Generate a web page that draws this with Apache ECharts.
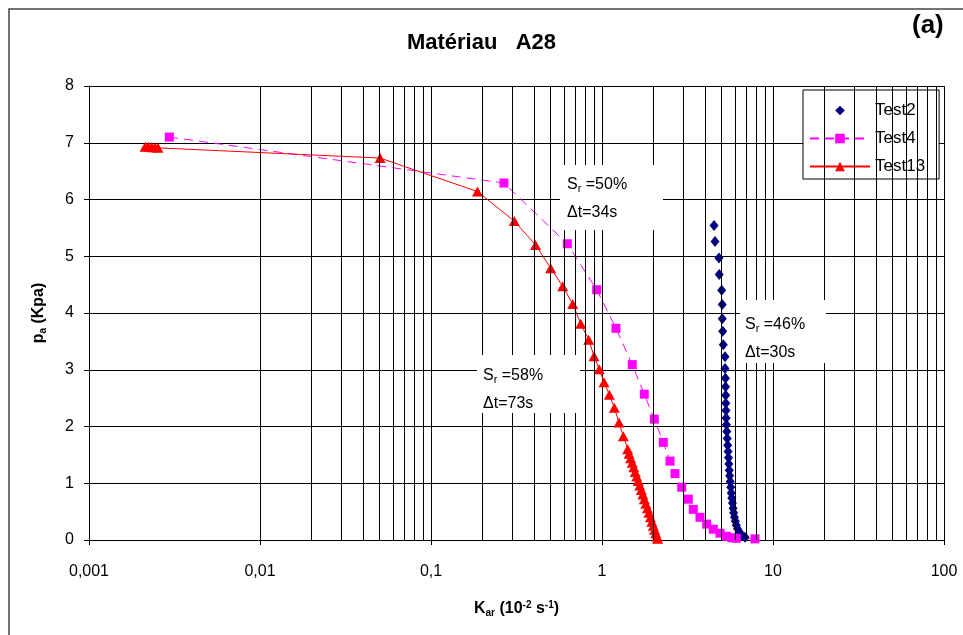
<!DOCTYPE html>
<html>
<head>
<meta charset="utf-8">
<script src="https://cdn.jsdelivr.net/npm/echarts@6/dist/echarts.min.js"></script>
<style>
  html, body { margin: 0; padding: 0; background: #fff; }
  #chart { width: 963px; height: 635px; }
</style>
</head>
<body>
<div id="chart"></div>
<script>
// Test2 : Sr = 46 %, Δt = 30 s
const test2K = [4.52, 4.58, 4.83, 4.85, 5.01, 5.05, 5.05, 5.08, 5.12, 5.24, 5.24, 5.27, 5.28, 5.29, 5.30,
                5.31, 5.32, 5.34, 5.37, 5.40, 5.43, 5.46, 5.49, 5.52, 5.55, 5.58, 5.62, 5.66, 5.70, 5.74,
                5.79, 5.84, 5.89, 5.95, 6.02, 6.10, 6.20, 6.35, 6.55, 6.86];
const test2P = [5.54, 5.26, 4.97, 4.68, 4.40, 4.15, 3.90, 3.68, 3.44, 3.23, 3.02, 2.85, 2.70, 2.55, 2.41,
                2.28, 2.15, 2.03, 1.91, 1.79, 1.67, 1.56, 1.45, 1.34, 1.23, 1.13, 1.03, 0.93, 0.83, 0.74,
                0.65, 0.56, 0.48, 0.40, 0.33, 0.26, 0.20, 0.14, 0.09, 0.05];

// Test4 : Sr = 50 %, Δt = 34 s
const test4K = [0.00295, 0.267, 0.627, 0.931, 1.207, 1.503, 1.767, 2.022, 2.283, 2.499, 2.673, 2.925,
                3.197, 3.420, 3.742, 4.096, 4.477, 4.90, 5.36, 5.75, 6.10, 7.85];
const test4P = [7.10, 6.29, 5.22, 4.41, 3.73, 3.09, 2.57, 2.13, 1.72, 1.39, 1.17, 0.93,
                0.72, 0.54, 0.40, 0.28, 0.19, 0.12, 0.065, 0.04, 0.03, 0.02];

// Test13 : Sr = 58 %, Δt = 73 s
const test13K = [0.00213, 0.00223, 0.00233, 0.00243, 0.00253, 0.0504, 0.187, 0.307, 0.409, 0.501,
                 0.589, 0.674, 0.751, 0.836, 0.898, 0.964, 1.028, 1.104, 1.181, 1.257, 1.333, 1.413,
                 1.440, 1.470, 1.502, 1.533, 1.564, 1.595, 1.628, 1.663, 1.698, 1.732, 1.768, 1.804,
                 1.844, 1.881, 1.920, 1.958, 1.996, 2.031, 2.062, 2.095, 2.114];
const test13P = [6.93, 6.93, 6.92, 6.92, 6.91, 6.73, 6.14, 5.62, 5.20, 4.79,
                 4.47, 4.16, 3.81, 3.53, 3.24, 3.01, 2.78, 2.56, 2.33, 2.07, 1.83, 1.60,
                 1.52, 1.44, 1.36, 1.28, 1.20, 1.12, 1.04, 0.96, 0.88, 0.80, 0.72, 0.64,
                 0.56, 0.48, 0.40, 0.32, 0.25, 0.18, 0.12, 0.06, 0.02];

const seriesNames = ['Test2', 'Test4', 'Test13'];
const xTickLabels = ['0,001', '0,01', '0,1', '1', '10', '100'];
const yTicks = [0, 1, 2, 3, 4, 5, 6, 7, 8];

const FONT = 'Liberation Sans, Arial, sans-serif';

// intermediate log grid lines (2..9 in every decade)
const decades = [0.001, 0.01, 0.1, 1, 10];
const minorLines = [];
decades.forEach(d => {
  for (let m = 2; m <= 9; m++) minorLines.push({ xAxis: +(d * m).toPrecision(6) });
});

const pairs = (xs, ys) => xs.map((x, i) => [x, ys[i]]);

const subRich = {
  sub: { fontSize: 10, fontFamily: FONT, fontWeight: 'bold', color: '#000', verticalAlign: 'bottom', lineHeight: 15 },
  sup: { fontSize: 10, fontFamily: FONT, fontWeight: 'bold', color: '#000', verticalAlign: 'top', lineHeight: 15 }
};

const noteRich = {
  r: { fontSize: 11, fontFamily: FONT, color: '#000', padding: [8, 0, 0, 0] },
  t: { fontSize: 16, fontFamily: FONT, color: '#000' }
};

function note(x, y, w, h, tx, ty, sr, dt) {
  return [
    { type: 'rect', z: 50, shape: { x: x, y: y, width: w, height: h }, style: { fill: '#fff' } },
    { type: 'text', z: 51, x: tx, y: ty,
      style: { text: '{t|S}{r|r}{t| =' + sr + '}\n{t|Δt=' + dt + '}', rich: noteRich,
               font: '16px ' + FONT, fill: '#000', lineHeight: 28 } }
  ];
}

const chart = echarts.init(document.getElementById('chart'), null, { renderer: 'canvas' });

chart.setOption({
  animation: false,
  backgroundColor: '#fff',
  title: {
    text: 'Matériau   A28',
    left: 'center',
    top: 27,
    textStyle: { fontFamily: FONT, fontSize: 22, fontWeight: 'bold', color: '#000' }
  },
  graphic: [
    { type: 'rect', z: 0, silent: true, shape: { x: 9, y: 9, width: 1000, height: 700 },
      style: { fill: 'none', stroke: '#444', lineWidth: 1.5 } },
    { type: 'text', z: 60, x: 912, y: 13,
      style: { text: '(a)', font: 'bold 26px ' + FONT, fill: '#000' } },
    ...note(560, 165, 103, 65, 567, 171, '50%', '34s'),
    ...note(477, 355, 103, 58, 483, 362, '58%', '73s'),
    ...note(740, 300, 86, 63, 745, 311, '46%', '30s')
  ],
  legend: {
    orient: 'vertical',
    left: 803,
    top: 90,
    backgroundColor: '#fff',
    borderColor: '#000',
    borderWidth: 1,
    borderRadius: 0,
    padding: [12, 14, 4, 6],
    itemGap: 11,
    itemWidth: 60,
    itemHeight: 12,
    textStyle: { fontFamily: FONT, fontSize: 17, color: '#000' },
    data: seriesNames
  },
  grid: { left: 89, right: 19, top: 86, bottom: 95, containLabel: false },
  xAxis: {
    type: 'log',
    logBase: 10,
    min: 0.001,
    max: 100,
    name: 'K{sub|ar} (10{sup|-2} s{sup|-1})',
    nameLocation: 'middle',
    nameGap: 60,
    nameTextStyle: { fontFamily: FONT, fontSize: 16, fontWeight: 'bold', color: '#000', lineHeight: 18, rich: subRich },
    axisLine: { show: true, lineStyle: { color: '#000', width: 1 } },
    axisTick: { show: true, inside: false, length: 5, lineStyle: { color: '#000' } },
    axisLabel: {
      fontFamily: FONT, fontSize: 16, color: '#000', margin: 24,
      formatter: v => xTickLabels[Math.round(Math.log10(v)) + 3]
    },
    splitLine: { show: true, lineStyle: { color: '#000', width: 1 } },
    minorTick: { show: false },
    minorSplitLine: { show: false }
  },
  yAxis: {
    type: 'value',
    min: yTicks[0],
    max: yTicks[yTicks.length - 1],
    interval: 1,
    name: 'p{sub|a} (Kpa)',
    nameLocation: 'middle',
    nameRotate: 90,
    nameGap: 41,
    nameTextStyle: { fontFamily: FONT, fontSize: 16, fontWeight: 'bold', color: '#000', lineHeight: 18, rich: subRich },
    axisLine: { show: true, lineStyle: { color: '#000', width: 1 } },
    axisTick: { show: true, inside: false, length: 5, lineStyle: { color: '#000' } },
    axisLabel: { fontFamily: FONT, fontSize: 16, color: '#000', margin: 15 },
    splitLine: { show: true, lineStyle: { color: '#000', width: 1 } }
  },
  series: [
    {
      name: 'logGrid',
      type: 'line',
      data: [],
      z: 1,
      silent: true,
      markLine: {
        silent: true,
        symbol: ['none', 'none'],
        label: { show: false },
        lineStyle: { color: '#000', width: 1, type: 'solid' },
        emphasis: { disabled: true },
        animation: false,
        data: minorLines
      }
    },
    {
      name: seriesNames[0],
      type: 'line',
      data: pairs(test2K, test2P),
      symbol: 'diamond',
      symbolSize: [9, 11],
      itemStyle: { color: '#000080' },
      lineStyle: { width: 0, opacity: 0 },
      z: 3
    },
    {
      name: seriesNames[1],
      type: 'line',
      data: pairs(test4K, test4P),
      symbol: 'rect',
      symbolSize: 9,
      itemStyle: { color: '#FF00FF' },
      lineStyle: { color: '#FF00FF', width: 1, type: [9, 6] },
      z: 3
    },
    {
      name: seriesNames[2],
      type: 'line',
      data: pairs(test13K, test13P),
      symbol: 'triangle',
      symbolSize: [11, 10],
      itemStyle: { color: '#FF0000' },
      lineStyle: { color: '#FF0000', width: 1 },
      z: 4
    }
  ]
});
</script>
</body>
</html>
